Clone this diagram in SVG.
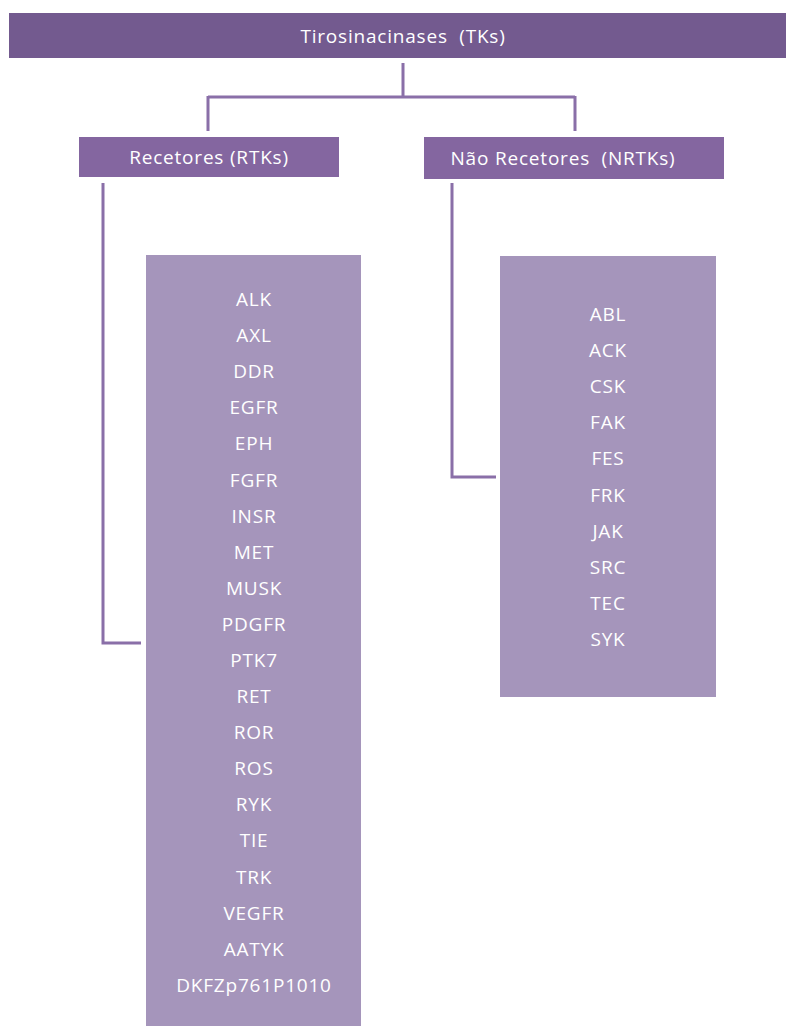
<svg xmlns="http://www.w3.org/2000/svg" width="786" height="1026" viewBox="0 0 786 1026">
<style>
.hdr{fill:#735a8f}
.sub{fill:#8466a0}
.lst{fill:#a595bb}
.t{font-family:"Open Sans","Liberation Sans",sans-serif;font-size:19px;letter-spacing:0.8px;fill:#ffffff;text-anchor:middle;dominant-baseline:central;white-space:pre}
.c{fill:none;stroke:#8a6fa8;stroke-width:3}
</style>
<rect width="786" height="1026" fill="#ffffff"/>
<g id="connectors">
<path class="c" d="M403,63 V97 M208,97 H575 M208,96 V131 M575,96 V131"/>
<path class="c" d="M103,183 V643 H141"/>
<path class="c" d="M452,183 V477 H496"/>
</g>
<g id="tks">
<rect class="hdr" x="9" y="13" width="777" height="45"/>
<text class="t" x="403" y="36" xml:space="preserve">Tirosinacinases  (TKs)</text>
</g>
<g id="rtks">
<rect class="sub" x="79" y="137" width="260" height="40"/>
<text class="t" x="209" y="157">Recetores (RTKs)</text>
</g>
<g id="nrtks">
<rect class="sub" x="424" y="137" width="300" height="42"/>
<text class="t" x="563" y="158" xml:space="preserve">Não Recetores  (NRTKs)</text>
</g>
<g id="rtk-list">
<rect class="lst" x="146" y="255" width="215" height="771"/>
<text class="t" x="254" y="299">ALK</text>
<text class="t" x="254" y="335">AXL</text>
<text class="t" x="254" y="371">DDR</text>
<text class="t" x="254" y="407">EGFR</text>
<text class="t" x="254" y="443">EPH</text>
<text class="t" x="254" y="480">FGFR</text>
<text class="t" x="254" y="516">INSR</text>
<text class="t" x="254" y="552">MET</text>
<text class="t" x="254" y="588">MUSK</text>
<text class="t" x="254" y="624">PDGFR</text>
<text class="t" x="254" y="660">PTK7</text>
<text class="t" x="254" y="696">RET</text>
<text class="t" x="254" y="732">ROR</text>
<text class="t" x="254" y="768">ROS</text>
<text class="t" x="254" y="804">RYK</text>
<text class="t" x="254" y="840">TIE</text>
<text class="t" x="254" y="877">TRK</text>
<text class="t" x="254" y="913">VEGFR</text>
<text class="t" x="254" y="949">AATYK</text>
<text class="t" x="254" y="985">DKFZp761P1010</text>
</g>
<g id="nrtk-list">
<rect class="lst" x="500" y="256" width="216" height="441"/>
<text class="t" x="608" y="314">ABL</text>
<text class="t" x="608" y="350">ACK</text>
<text class="t" x="608" y="386">CSK</text>
<text class="t" x="608" y="422">FAK</text>
<text class="t" x="608" y="458">FES</text>
<text class="t" x="608" y="495">FRK</text>
<text class="t" x="608" y="531">JAK</text>
<text class="t" x="608" y="567">SRC</text>
<text class="t" x="608" y="603">TEC</text>
<text class="t" x="608" y="639">SYK</text>
</g>
</svg>
